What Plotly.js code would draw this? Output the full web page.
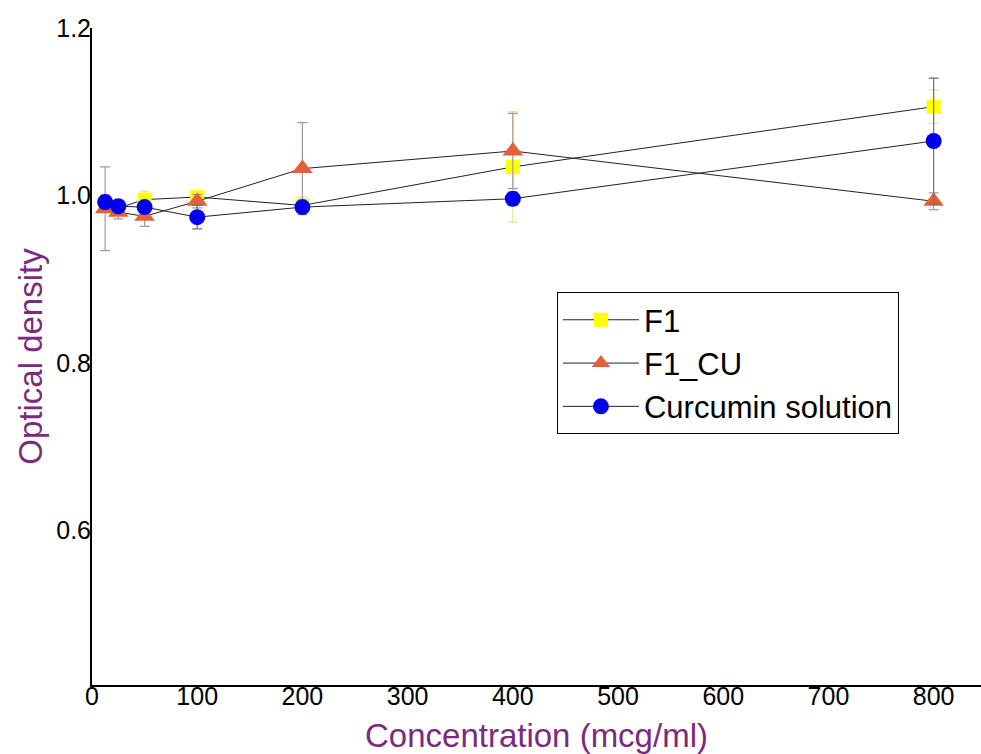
<!DOCTYPE html>
<html>
<head>
<meta charset="utf-8">
<script src="https://cdn.plot.ly/plotly-3.0.1.min.js"></script>
<style>
html,body{margin:0;padding:0;background:#fff;}
#chart{width:981px;height:754px;}
</style>
</head>
<body>
<div id="chart"></div>
<script>
// Data
const concentration = [12.5, 25, 50, 100, 200, 400, 800];
const f1 = [0.990, 0.985, 0.995, 0.998, 0.988, 1.034, 1.106];
const f1Err = [0.010, 0.008, 0.010, 0.006, 0.010, 0.066, 0.020];
const f1cu = [0.984, 0.980, 0.975, 0.993, 1.032, 1.053, 0.993];
const f1cuErr = [0.050, 0.008, 0.012, 0.008, 0.055, 0.045, 0.010];
const curcumin = [0.992, 0.987, 0.986, 0.974, 0.986, 0.996, 1.065];
const curcuminErr = [0.008, 0.006, 0.006, 0.014, 0.006, 0.008, 0.075];
const seriesNames = ["F1", "F1_CU", "Curcumin solution"];
const xTicks = [0, 100, 200, 300, 400, 500, 600, 700, 800];
const yTicks = [0.6, 0.8, 1.0, 1.2];
const yTickText = ["0.6", "0.8", "1.0", "1.2"];

const font = "Arial, 'Liberation Sans', sans-serif";
const purple = "#7b2a7e";

function trace(y, err, name, symbol, color, size, errColor) {
  return {
    x: concentration, y: y, name: name, type: "scatter", mode: "lines+markers",
    cliponaxis: false,
    line: {color: "#222", width: 1},
    marker: {symbol: symbol, color: color, size: size, line: {width: 0}},
    error_y: {type: "data", array: err, visible: true, color: errColor, thickness: 1.2, width: 5}
  };
}

const data = [
  trace(f1, f1Err, seriesNames[0], "square", "#ffff00", 14, "#e6e690"),
  trace(f1cu, f1cuErr, seriesNames[1], "triangle-up", "#e0613c", 18, "#ab9894"),
  trace(curcumin, curcuminErr, seriesNames[2], "circle", "#0000ee", 16, "#707070")
];

const layout = {
  width: 981, height: 754,
  margin: {l: 92, r: 0, t: 28, b: 69},
  paper_bgcolor: "#fff", plot_bgcolor: "#fff",
  font: {family: font, color: "#000"},
  showlegend: true,
  legend: {
    x: 0.523, y: 0.598, xanchor: "left", yanchor: "top",
    bgcolor: "#fff", bordercolor: "#000", borderwidth: 1,
    font: {family: font, size: 31, color: "#000"},
    itemwidth: 76, tracegroupgap: 0
  },
  xaxis: {
    range: [0, 845], tickvals: xTicks, ticks: "", showgrid: false, zeroline: false,
    showline: true, linecolor: "#000", linewidth: 2,
    ticklabelstandoff: -12,
    tickfont: {family: font, size: 25, color: "#000"},
    title: {text: "Concentration (mcg/ml)", font: {family: font, size: 33, color: purple}, standoff: 18}
  },
  yaxis: {
    range: [0.415, 1.2], tickvals: yTicks, ticktext: yTickText, ticks: "", showgrid: false, zeroline: false,
    showline: true, linecolor: "#000", linewidth: 2,
    ticklabelstandoff: -6,
    tickfont: {family: font, size: 25, color: "#000"},
    title: {text: "Optical density", font: {family: font, size: 33, color: purple}, standoff: 4}
  }
};

Plotly.newPlot("chart", data, layout, {displayModeBar: false, staticPlot: true});
</script>
</body>
</html>
